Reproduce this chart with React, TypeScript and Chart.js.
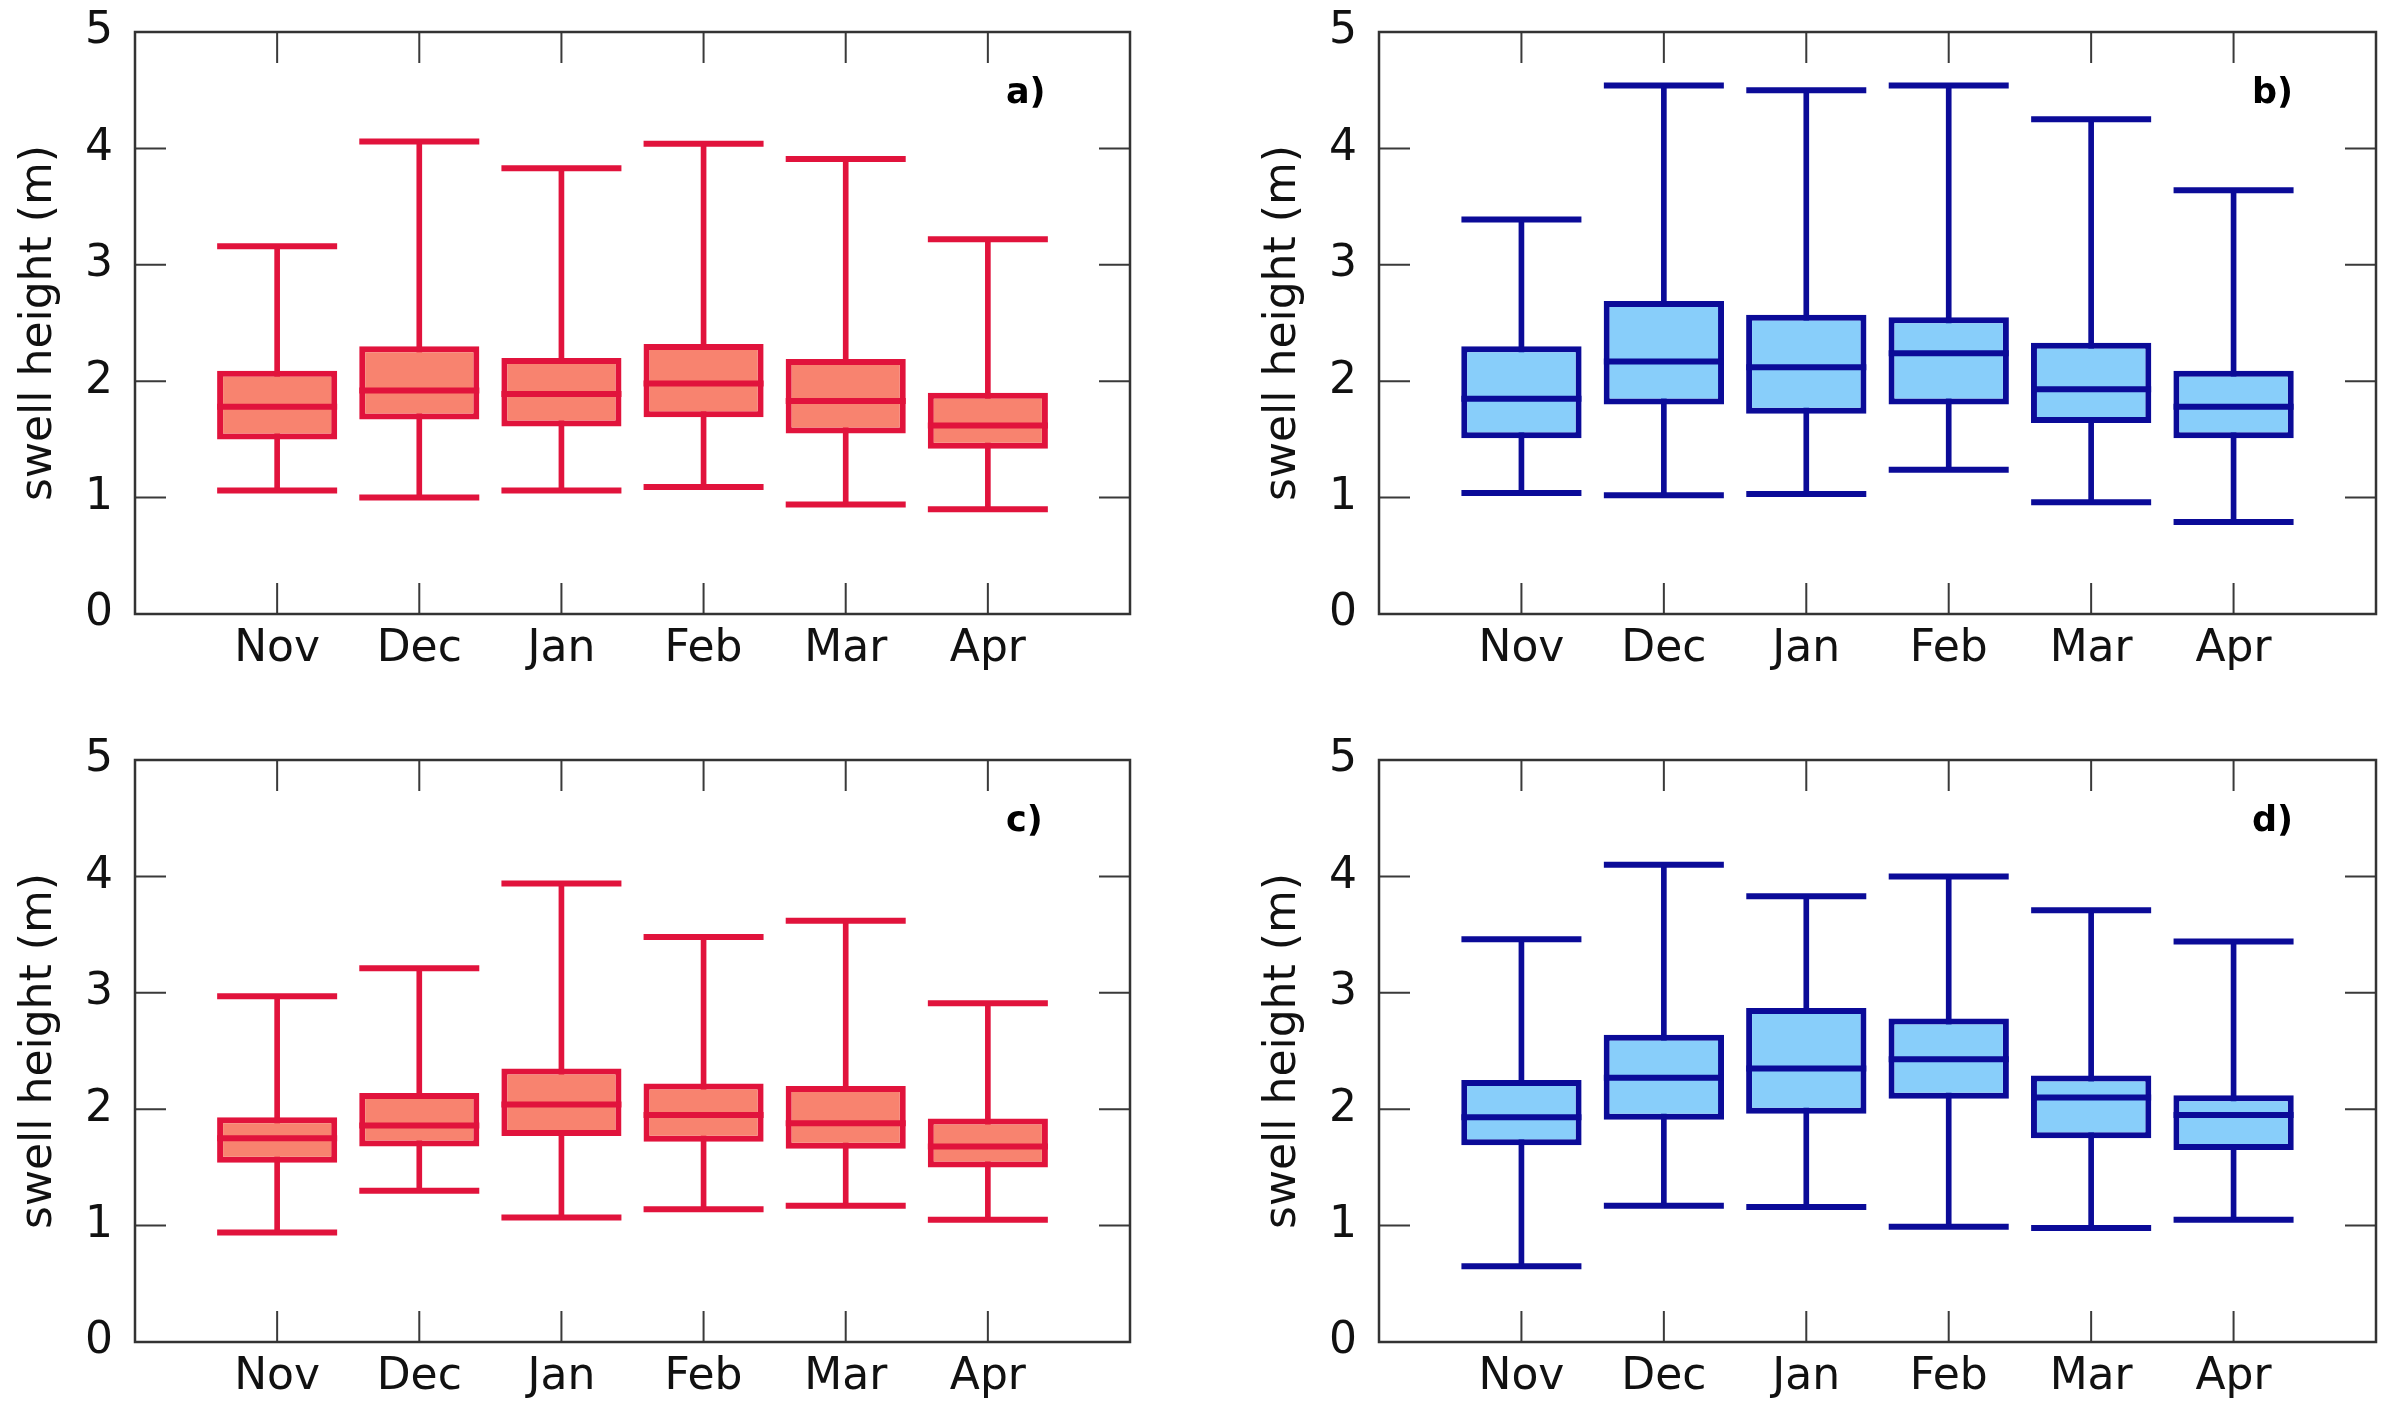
import React, { useEffect, useRef } from 'react';
import { Chart, registerables } from 'chart.js';

Chart.register(...registerables);

const months = ['Nov', 'Dec', 'Jan', 'Feb', 'Mar', 'Apr'];
const yTickValues = [0, 1, 2, 3, 4, 5];
const yTitle = 'swell height (m)';

// Panel a)
const aMin = [1.06, 1.0, 1.06, 1.09, 0.94, 0.9];
const aQ1 = [1.5, 1.67, 1.61, 1.69, 1.55, 1.42];
const aMed = [1.78, 1.92, 1.89, 1.98, 1.83, 1.62];
const aQ3 = [2.09, 2.3, 2.2, 2.32, 2.19, 1.9];
const aMax = [3.16, 4.06, 3.83, 4.04, 3.91, 3.22];

// Panel b)
const bMin = [1.04, 1.02, 1.03, 1.24, 0.96, 0.79];
const bQ1 = [1.51, 1.8, 1.72, 1.8, 1.64, 1.51];
const bMed = [1.85, 2.17, 2.12, 2.24, 1.93, 1.78];
const bQ3 = [2.3, 2.69, 2.57, 2.55, 2.33, 2.09];
const bMax = [3.39, 4.54, 4.5, 4.54, 4.25, 3.64];

// Panel c)
const cMin = [0.94, 1.3, 1.07, 1.14, 1.17, 1.05];
const cQ1 = [1.54, 1.68, 1.77, 1.72, 1.66, 1.5];
const cMed = [1.75, 1.86, 2.04, 1.95, 1.88, 1.68];
const cQ3 = [1.93, 2.14, 2.35, 2.22, 2.2, 1.92];
const cMax = [2.97, 3.21, 3.94, 3.48, 3.62, 2.91];

// Panel d)
const dMin = [0.65, 1.17, 1.16, 0.99, 0.98, 1.05];
const dQ1 = [1.69, 1.91, 1.96, 2.09, 1.75, 1.65];
const dMed = [1.93, 2.27, 2.35, 2.43, 2.1, 1.95];
const dQ3 = [2.25, 2.64, 2.87, 2.78, 2.29, 2.12];
const dMax = [3.46, 4.1, 3.83, 4.0, 3.71, 3.44];

const RED_EDGE = '#e1133c';
const RED_FILL = '#f8836f';
const BLUE_EDGE = '#0b0b98';
const BLUE_FILL = '#88cefa';

const FONT = '"DejaVu Sans", "Liberation Sans", sans-serif';
const TICK_SIZE = 44;

const padArr = <T,>(arr: T[]): (T | null)[] => [null, ...arr, null];

const framePlugin = {
  id: 'frameTicks',
  afterDatasetsDraw(chart: any, _args: any, opts: any) {
    const { ctx, chartArea, scales } = chart;
    const { left, right, top, bottom } = chartArea;
    const x = scales.x;
    const y = scales.y;
    const tl = 31;
    ctx.save();
    ctx.strokeStyle = '#3a3a3a';
    ctx.lineWidth = 2;
    ctx.beginPath();
    x.ticks.forEach((t: any, i: number) => {
      const lbl = x.getLabelForValue(t.value);
      if (!lbl) return;
      const px = x.getPixelForTick(i);
      ctx.moveTo(px, bottom);
      ctx.lineTo(px, bottom - tl);
      ctx.moveTo(px, top);
      ctx.lineTo(px, top + tl);
    });
    y.ticks.forEach((t: any) => {
      if (t.value <= 0 || t.value >= 5) return;
      const py = y.getPixelForValue(t.value);
      ctx.moveTo(left, py);
      ctx.lineTo(left + tl, py);
      ctx.moveTo(right, py);
      ctx.lineTo(right - tl, py);
    });
    ctx.stroke();
    ctx.lineWidth = 2.5;
    ctx.strokeStyle = '#333333';
    ctx.strokeRect(left, top, right - left, bottom - top);
    ctx.fillStyle = '#000000';
    ctx.font = `bold 35px ${FONT}`;
    ctx.textAlign = 'left';
    ctx.textBaseline = 'middle';
    ctx.fillText(opts.letter, right - 124, top + 62);
    ctx.restore();
  },
};

type PanelProps = {
  left: number;
  top: number;
  width: number;
  height: number;
  areaLeft: number;
  areaRight: number;
  areaTop: number;
  areaBottom: number;
  mins: number[];
  q1s: number[];
  meds: number[];
  q3s: number[];
  maxs: number[];
  edge: string;
  fill: string;
  letter: string;
};

function Panel(p: PanelProps) {
  const ref = useRef<HTMLCanvasElement | null>(null);
  useEffect(() => {
    if (!ref.current) return;
    const labels = ['', ...months, ''];
    const yW = p.areaLeft;
    const xH = p.height - p.areaBottom;
    const titleCenter = p.areaLeft - 95;
    const capRadius = 60;
    const chart = new Chart(ref.current, {
      type: 'bar',
      data: {
        labels,
        datasets: [
          {
            type: 'line',
            label: 'median',
            data: padArr(p.meds),
            showLine: false,
            pointStyle: 'line',
            pointRadius: capRadius,
            pointHoverRadius: capRadius,
            pointBorderWidth: 6,
            pointBorderColor: p.edge,
            borderColor: p.edge,
            order: 0,
          } as any,
          {
            type: 'bar',
            label: 'box',
            data: padArr(p.q1s.map((v, i) => [v, p.q3s[i]])),
            backgroundColor: p.fill,
            borderColor: p.edge,
            borderWidth: 6,
            borderSkipped: false,
            categoryPercentage: 0.845,
            barPercentage: 1,
            grouped: false,
            order: 1,
          } as any,
          {
            type: 'line',
            label: 'max',
            data: padArr(p.maxs),
            showLine: false,
            pointStyle: 'line',
            pointRadius: capRadius,
            pointHoverRadius: capRadius,
            pointBorderWidth: 6,
            pointBorderColor: p.edge,
            borderColor: p.edge,
            order: 2,
          } as any,
          {
            type: 'line',
            label: 'min',
            data: padArr(p.mins),
            showLine: false,
            pointStyle: 'line',
            pointRadius: capRadius,
            pointHoverRadius: capRadius,
            pointBorderWidth: 6,
            pointBorderColor: p.edge,
            borderColor: p.edge,
            order: 2,
          } as any,
          {
            type: 'bar',
            label: 'whisker',
            data: padArr(p.mins.map((v, i) => [v, p.maxs[i]])),
            backgroundColor: p.edge,
            borderWidth: 0,
            barThickness: 5,
            grouped: false,
            order: 3,
          } as any,
        ],
      },
      options: {
        animation: false,
        responsive: false,
        devicePixelRatio: 1,
        events: [],
        layout: {
          autoPadding: false,
          padding: {
            left: 0,
            top: p.areaTop,
            right: p.width - p.areaRight,
            bottom: 0,
          },
        },
        plugins: {
          legend: { display: false },
          tooltip: { enabled: false },
          frameTicks: { letter: p.letter },
        } as any,
        scales: {
          x: {
            type: 'category',
            offset: false,
            grid: { display: false, drawTicks: false },
            border: { display: false },
            ticks: {
              autoSkip: false,
              maxRotation: 0,
              minRotation: 0,
              padding: 9,
              color: '#111111',
              font: { family: FONT, size: TICK_SIZE },
            },
            afterFit: (s: any) => {
              s.height = xH;
              s.paddingLeft = 0;
              s.paddingRight = 0;
              s.paddingTop = 0;
              s.paddingBottom = 0;
            },
          },
          y: {
            type: 'linear',
            min: 0,
            max: 5,
            grid: { display: false, drawTicks: false },
            border: { display: false },
            afterBuildTicks: (s: any) => {
              s.ticks = yTickValues.map((v) => ({ value: v }));
            },
            ticks: {
              padding: 22,
              color: '#111111',
              font: { family: FONT, size: TICK_SIZE },
            },
            title: {
              display: true,
              text: yTitle,
              color: '#111111',
              font: { family: FONT, size: 44 },
              padding: { top: titleCenter - 26.4, bottom: 0 },
            },
            afterFit: (s: any) => {
              s.width = yW;
              s.paddingTop = 0;
              s.paddingBottom = 0;
              s.paddingLeft = 0;
              s.paddingRight = 0;
            },
          },
        },
      } as any,
      plugins: [framePlugin as any],
    });
    return () => chart.destroy();
  }, []);
  return (
    <canvas
      ref={ref}
      width={p.width}
      height={p.height}
      style={{ position: 'absolute', left: p.left, top: p.top, width: p.width, height: p.height }}
    />
  );
}

export default function App() {
  return (
    <div style={{ position: 'absolute', left: 0, top: 0, width: 2402, height: 1417, background: '#ffffff', overflow: 'hidden' }}>
      <Panel left={0} top={0} width={1201} height={708} areaLeft={135} areaRight={1130} areaTop={32} areaBottom={614}
        mins={aMin} q1s={aQ1} meds={aMed} q3s={aQ3} maxs={aMax} edge={RED_EDGE} fill={RED_FILL} letter="a)" />
      <Panel left={1201} top={0} width={1201} height={708} areaLeft={178} areaRight={1175} areaTop={32} areaBottom={614}
        mins={bMin} q1s={bQ1} meds={bMed} q3s={bQ3} maxs={bMax} edge={BLUE_EDGE} fill={BLUE_FILL} letter="b)" />
      <Panel left={0} top={708} width={1201} height={709} areaLeft={135} areaRight={1130} areaTop={52} areaBottom={634}
        mins={cMin} q1s={cQ1} meds={cMed} q3s={cQ3} maxs={cMax} edge={RED_EDGE} fill={RED_FILL} letter="c)" />
      <Panel left={1201} top={708} width={1201} height={709} areaLeft={178} areaRight={1175} areaTop={52} areaBottom={634}
        mins={dMin} q1s={dQ1} meds={dMed} q3s={dQ3} maxs={dMax} edge={BLUE_EDGE} fill={BLUE_FILL} letter="d)" />
    </div>
  );
}
